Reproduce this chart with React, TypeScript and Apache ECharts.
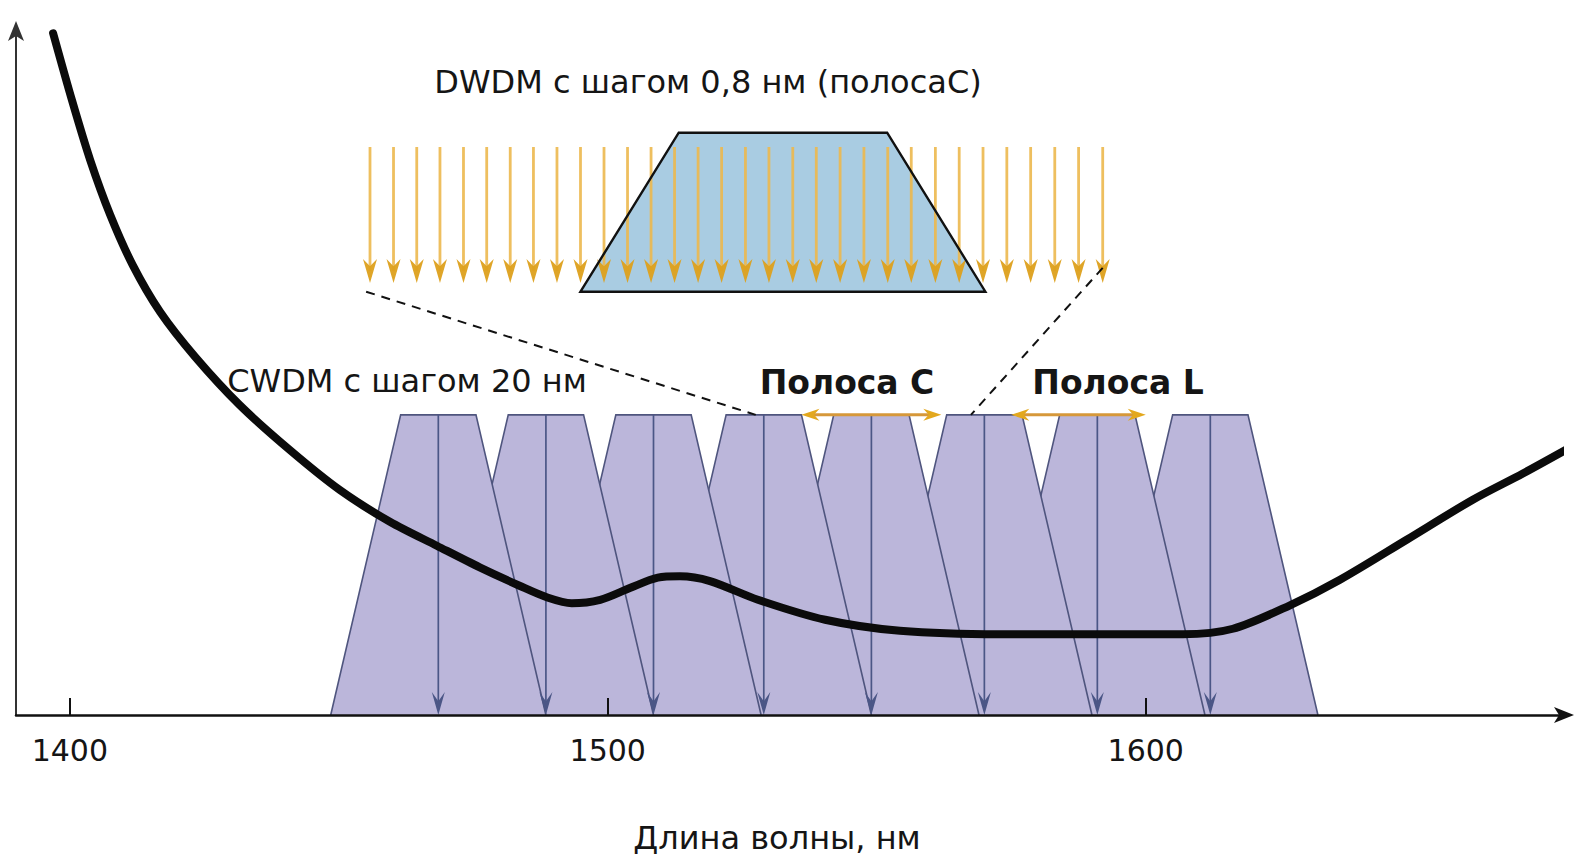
import React, { useEffect, useRef } from "react";
import * as echarts from "echarts";

// ---------- data ----------
const X_TICKS = [1400, 1500, 1600];

// fibre attenuation curve (wavelength, nm / relative loss)
const CURVE_WL = [
  1396.9, 1400.4, 1403.8, 1407.5, 1411.7, 1416.8, 1423.3, 1431.6, 1440.9, 1450.2,
  1459.5, 1468.3, 1476.2, 1483.7, 1488.9, 1493.3, 1498.6, 1504.1, 1509.3, 1513.4,
  1519.0, 1527.9, 1540.4, 1554.3, 1572.9, 1591.5, 1606.9, 1616.2, 1626.8, 1636.1,
  1648.5, 1660.8, 1670.1, 1680.1,
];
const CURVE_LOSS = [
  98.8, 89.1, 80.4, 72.5, 65.2, 58.4, 51.9, 44.9, 38.4, 32.6,
  28.0, 24.5, 21.4, 18.7, 17.0, 16.2, 16.7, 18.4, 19.9, 20.1,
  19.4, 16.7, 13.8, 12.2, 11.7, 11.7, 11.7, 12.5, 15.9, 19.6,
  25.4, 31.2, 35.0, 39.3,
];

// CWDM channel centres, nm
const CWDM_CHANNELS = [1468.5, 1488.5, 1508.5, 1529, 1549, 1570, 1591, 1612];
const FILTER_PEAK = 43.5; // filter passband level
const FILTER_TOP_HALF = 7; // nm
const FILTER_BASE_HALF = 20; // nm

// bands (start, end nm)
const BAND_C = [1536, 1562];
const BAND_L = [1575, 1600];

// DWDM channels (ITU 100 GHz grid), nm
const DWDM_CHANNELS = [
  1530.33, 1531.12, 1531.9, 1532.68, 1533.47, 1534.25, 1535.04, 1535.82,
  1536.61, 1537.4, 1538.19, 1538.98, 1539.77, 1540.56, 1541.35, 1542.14,
  1542.94, 1543.73, 1544.53, 1545.32, 1546.12, 1546.92, 1547.72, 1548.51,
  1549.32, 1550.12, 1550.92, 1551.72, 1552.52, 1553.33, 1554.13, 1554.94,
];
const DWDM_PASSBAND_WL = [1537.4, 1540.7, 1547.7, 1551.0];
const DWDM_PASSBAND_GAIN = [0, 1, 1, 0];
const DWDM_ARROW_TOP = 0.91;
const DWDM_ARROW_TIP = 0.055;

// ---------- styles ----------
const FONT = '"DejaVu Sans", Verdana, sans-serif';
const TEXT_COLOR = "#151515";
const CWDM_FILL = "#bbb6da";
const CWDM_EDGE = "#4f557e";
const CWDM_ARROW = "#4b5686";
const BAND_LINE = "#d6983a";
const BAND_HEAD = "#e3a81e";
const DWDM_LINE = "#ecb84e";
const DWDM_HEAD = "#dda01c";
const PASS_FILL = "#a9cce2";

function downHead(x: number, y: number, w: number, h: number, notch: number) {
  return [
    [x, y],
    [x - w / 2, y - h],
    [x, y - h * notch],
    [x + w / 2, y - h],
  ];
}

export default function App() {
  const ref = useRef<HTMLDivElement>(null);

  useEffect(() => {
    const chart = echarts.init(ref.current!, null, { renderer: "svg" });

    const filterPoints = (api: any, c: number) => [
      api.coord([c - FILTER_BASE_HALF, 0]),
      api.coord([c - FILTER_TOP_HALF, FILTER_PEAK]),
      api.coord([c + FILTER_TOP_HALF, FILTER_PEAK]),
      api.coord([c + FILTER_BASE_HALF, 0]),
    ];

    const option: any = {
      animation: false,
      backgroundColor: "#ffffff",
      grid: [
        { left: 16, right: 17, top: 25, bottom: 145, containLabel: false, outerBoundsMode: "none" },
        { left: 370, right: 474.3, top: 132.7, bottom: 568.3, containLabel: false, outerBoundsMode: "none" },
      ],
      xAxis: [
        {
          type: "value",
          gridIndex: 0,
          min: 1390,
          max: 1677,
          z: 10,
          splitLine: { show: false },
          axisLine: {
            show: true,
            onZero: false,
            symbol: ["none", "arrow"],
            symbolSize: [12, 20],
            symbolOffset: [0, 14],
            lineStyle: { color: "#111", width: 2.5 },
          },
          axisTick: {
            show: true,
            inside: true,
            length: 17,
            customValues: X_TICKS,
            lineStyle: { color: "#111", width: 2 },
          },
          axisLabel: {
            show: true,
            customValues: X_TICKS,
            formatter: (v: number) => String(v),
            margin: 20,
            fontSize: 30,
            fontFamily: FONT,
            color: TEXT_COLOR,
          },
        },
        { type: "value", gridIndex: 1, min: 1530.33, max: 1554.94, show: false },
      ],
      yAxis: [
        {
          type: "value",
          gridIndex: 0,
          min: 0,
          max: 100,
          z: 10,
          splitLine: { show: false },
          axisTick: { show: false },
          axisLabel: { show: false },
          axisLine: {
            show: true,
            onZero: false,
            symbol: ["none", "arrow"],
            symbolSize: [12, 20],
            symbolOffset: [0, 4],
            lineStyle: { color: "#333", width: 2 },
          },
        },
        { type: "value", gridIndex: 1, min: 0, max: 1, show: false },
      ],
      series: [
        {
          // drawn right-to-left so each filter covers the left flank of its neighbour
          type: "custom",
          name: "CWDM filters",
          xAxisIndex: 0,
          yAxisIndex: 0,
          z: 1,
          silent: true,
          data: CWDM_CHANNELS.slice().reverse().map((c) => [c, 0]),
          renderItem: (_p: any, api: any) => {
            const pts = filterPoints(api, api.value(0) as number);
            return {
              type: "group",
              children: [
                { type: "polygon", shape: { points: pts }, style: { fill: CWDM_FILL } },
                {
                  type: "polyline",
                  shape: { points: pts },
                  style: { stroke: CWDM_EDGE, lineWidth: 1.6, fill: "none" },
                },
              ],
            };
          },
        },
        {
          type: "custom",
          name: "CWDM channels",
          xAxisIndex: 0,
          yAxisIndex: 0,
          z: 2,
          silent: true,
          data: CWDM_CHANNELS.map((c) => [c, 0]),
          renderItem: (_p: any, api: any) => {
            const c = api.value(0) as number;
            const top = api.coord([c, FILTER_PEAK]);
            const tip = api.coord([c, 0]);
            return {
              type: "group",
              children: [
                {
                  type: "line",
                  shape: { x1: top[0], y1: top[1], x2: tip[0], y2: tip[1] - 10 },
                  style: { stroke: CWDM_ARROW, lineWidth: 1.7 },
                },
                {
                  type: "polygon",
                  shape: { points: downHead(tip[0], tip[1], 13, 23, 0.6) },
                  style: { fill: CWDM_ARROW },
                },
              ],
            };
          },
        },
        {
          type: "line",
          name: "Затухание",
          xAxisIndex: 0,
          yAxisIndex: 0,
          z: 3,
          clip: false,
          silent: true,
          showSymbol: false,
          symbol: "none",
          smooth: 0.3,
          lineStyle: { color: "#0b0b0b", width: 8, cap: "round", join: "round" },
          data: CURVE_WL.map((w, i) => [w, CURVE_LOSS[i]]),
        },
        {
          type: "custom",
          name: "Bands",
          xAxisIndex: 0,
          yAxisIndex: 0,
          z: 4,
          silent: true,
          encode: { x: [0, 1] },
          data: [BAND_C, BAND_L],
          renderItem: (_p: any, api: any) => {
            const a = api.coord([api.value(0), FILTER_PEAK]);
            const b = api.coord([api.value(1), FILTER_PEAK]);
            const hl = 18;
            const hw = 6;
            return {
              type: "group",
              children: [
                {
                  type: "line",
                  shape: { x1: a[0] + 10, y1: a[1], x2: b[0] - 10, y2: b[1] },
                  style: { stroke: BAND_LINE, lineWidth: 3 },
                },
                {
                  type: "polygon",
                  shape: {
                    points: [
                      [a[0], a[1]],
                      [a[0] + hl, a[1] - hw],
                      [a[0] + hl * 0.7, a[1]],
                      [a[0] + hl, a[1] + hw],
                    ],
                  },
                  style: { fill: BAND_HEAD },
                },
                {
                  type: "polygon",
                  shape: {
                    points: [
                      [b[0], b[1]],
                      [b[0] - hl, b[1] - hw],
                      [b[0] - hl * 0.7, b[1]],
                      [b[0] - hl, b[1] + hw],
                    ],
                  },
                  style: { fill: BAND_HEAD },
                },
              ],
            };
          },
        },
        {
          type: "custom",
          name: "DWDM passband fill",
          xAxisIndex: 1,
          yAxisIndex: 1,
          z: 1,
          silent: true,
          data: [[DWDM_PASSBAND_WL[0], 0]],
          renderItem: (_p: any, api: any) => {
            const pts = DWDM_PASSBAND_WL.map((w, i) => api.coord([w, DWDM_PASSBAND_GAIN[i]]));
            return { type: "polygon", shape: { points: pts }, style: { fill: PASS_FILL } };
          },
        },
        {
          type: "custom",
          name: "DWDM channels",
          xAxisIndex: 1,
          yAxisIndex: 1,
          z: 2,
          silent: true,
          data: DWDM_CHANNELS.map((c) => [c, DWDM_ARROW_TOP]),
          renderItem: (_p: any, api: any) => {
            const c = api.value(0) as number;
            const top = api.coord([c, DWDM_ARROW_TOP]);
            const tip = api.coord([c, DWDM_ARROW_TIP]);
            return {
              type: "group",
              children: [
                {
                  type: "line",
                  shape: { x1: top[0], y1: top[1], x2: tip[0], y2: tip[1] - 12 },
                  style: { stroke: DWDM_LINE, lineWidth: 2.8, opacity: 0.9 },
                },
                {
                  type: "polygon",
                  shape: { points: downHead(tip[0], tip[1], 14, 24, 0.7) },
                  style: { fill: DWDM_HEAD, opacity: 0.95 },
                },
              ],
            };
          },
        },
        {
          type: "custom",
          name: "DWDM passband edge",
          xAxisIndex: 1,
          yAxisIndex: 1,
          z: 3,
          silent: true,
          data: [[DWDM_PASSBAND_WL[0], 0]],
          renderItem: (_p: any, api: any) => {
            const pts = DWDM_PASSBAND_WL.map((w, i) => api.coord([w, DWDM_PASSBAND_GAIN[i]]));
            return {
              type: "polygon",
              shape: { points: pts },
              style: { fill: "none", stroke: "#111", lineWidth: 2.4 },
            };
          },
        },
      ],
    };

    chart.setOption(option);

    const inset = (v: number[]) => chart.convertToPixel({ gridIndex: 1 }, v) as number[];
    const main = (v: number[]) => chart.convertToPixel({ gridIndex: 0 }, v) as number[];
    const l1 = inset([1530.2, 0]);
    const l2 = main([1527.5, FILTER_PEAK]);
    const r1 = inset([1554.94, 0.15]);
    const r2 = main([1567.5, FILTER_PEAK]);

    const txt = (text: string, x: number, y: number, size: number, weight: string) => ({
      type: "text",
      x,
      y,
      z: 100,
      silent: true,
      style: {
        text,
        fill: TEXT_COLOR,
        fontSize: size,
        fontFamily: FONT,
        fontWeight: weight,
        align: "center",
        verticalAlign: "middle",
        textAlign: "center",
        textVerticalAlign: "middle",
      },
    });

    chart.setOption({
      graphic: [
        {
          type: "line",
          z: 50,
          silent: true,
          shape: { x1: l1[0], y1: l1[1], x2: l2[0], y2: l2[1] },
          style: { stroke: "#111", lineWidth: 2, lineDash: [9, 7] },
        },
        {
          type: "line",
          z: 50,
          silent: true,
          shape: { x1: r1[0], y1: r1[1], x2: r2[0], y2: r2[1] },
          style: { stroke: "#111", lineWidth: 2, lineDash: [9, 7] },
        },
        txt("DWDM с шагом 0,8 нм (полосаС)", 708, 82, 32, "normal"),
        txt("CWDM с шагом 20 нм", 407, 381, 32, "normal"),
        txt("Полоса C", 847, 382, 33, "bold"),
        txt("Полоса L", 1118, 382, 33, "bold"),
        txt("Длина волны, нм", 777, 838, 32, "normal"),
      ],
    });

    return () => chart.dispose();
  }, []);

  return (
    <div
      ref={ref}
      style={{ position: "fixed", left: 0, top: 0, width: 1577, height: 860, background: "#fff" }}
    />
  );
}
